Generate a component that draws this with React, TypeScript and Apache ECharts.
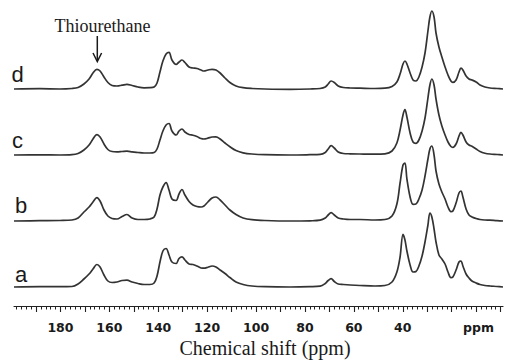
import React, { useEffect, useRef } from "react";
import * as echarts from "echarts";

// Chemical shift grid (ppm) shared by all four spectra
const shifts = [
  199.0, 188.4, 180.2, 175.3, 172.8, 170.4, 168.3, 166.7, 165.1, 163.8,
  162.2, 160.6, 158.9, 156.9, 154.8, 152.8, 150.7, 148.3, 145.8, 143.4,
  141.7, 140.5, 139.3, 138.1, 136.8, 135.6, 134.4, 132.7, 131.5, 130.3,
  129.1, 127.4, 125.8, 124.2, 122.5, 121.3, 119.7, 118.0, 116.4, 114.7,
  112.7, 110.7, 108.2, 105.3, 101.7, 96.3, 86.1, 77.9, 73.8, 71.7,
  70.5, 69.3, 68.0, 66.4, 64.3, 61.5, 57.5, 51.4, 47.3, 44.4,
  42.4, 41.1, 39.9, 39.1, 38.3, 37.0, 35.8, 34.6, 33.4, 32.1,
  30.9, 29.7, 28.9, 28.1, 27.2, 26.4, 25.2, 24.0, 22.7, 21.5,
  20.3, 19.5, 18.2, 17.0, 16.2, 15.4, 14.1, 12.9, 11.7, 10.0,
  8.4, 6.4, 4.3, 1.4, -1.0,
];

const traceA = [
  0, 0.3, 0.3, 0.5, 3, 8, 13, 18, 22.5, 20,
  12, 6, 4.5, 5, 6.5, 6.8, 5, 3.5, 2.5, 2.5,
  4, 11, 25, 36, 38.5, 32, 25, 23.5, 28.5, 30.2,
  27, 23, 22.5, 21, 19, 18.8, 19.8, 21, 20, 17,
  13.5, 9.5, 5, 2.5, 1, 0.3, 0, 0.3, 0.8, 3.5,
  6.5, 8.4, 5.5, 3, 2.5, 2, 1.5, 1, 1.5, 5,
  15, 30, 52.7, 47, 36, 22, 15, 15.5, 21, 31,
  45, 62, 74, 70, 58, 45, 32, 28, 23, 15,
  9.4, 10, 17, 25, 26, 21, 13, 9, 6, 4,
  2.5, 1.5, 1, 0.5, 0,
];

const traceB = [
  0, 0.3, 0.5, 1, 3, 9, 14, 19, 23.4, 20,
  11, 5, 2.5, 2, 4.5, 6.5, 3, 1.5, 1.5, 2,
  4, 12, 26, 34, 38.4, 31, 22, 20.5, 27, 31.5,
  26, 19.5, 16, 14.5, 14, 15, 19, 23, 24, 21,
  16, 11, 6.5, 3, 1.3, 0.5, 0, 0.2, 0.8, 3,
  6, 8.4, 6, 3, 2, 1.5, 1.5, 1, 1.5, 5,
  17, 38, 56, 58, 42, 24, 16.7, 17, 22, 31,
  45, 62, 72, 75, 66, 50, 37, 29, 22, 14,
  9.4, 10, 18, 28, 30, 24, 12, 6, 4, 2.5,
  1.5, 1, 0.8, 0.3, 0,
];

const traceC = [
  0, 0.2, 0, 0.3, 1.5, 5, 10, 16, 20.3, 18,
  11, 5.5, 3.5, 3.2, 3.5, 3.8, 3.2, 2.5, 2, 2,
  2.5, 6, 15, 24, 30, 31.5, 24, 20, 24, 26,
  23, 20.5, 19.8, 18.5, 16.5, 16, 16.8, 18, 18.2, 16,
  12, 8.3, 4.5, 2.2, 1, 0.3, 0, 0.3, 0.6, 2.5,
  6, 9.3, 7, 3, 1.5, 1.2, 1, 0.8, 1.2, 4,
  12, 25, 40, 45.3, 38, 22, 13, 11.7, 15, 24,
  37, 57, 70, 76, 70, 56, 40, 29, 20, 13,
  8.5, 7.7, 11, 19, 22.7, 20, 13, 10, 8.7, 6,
  3.5, 1.8, 1, 0.5, 0,
];

const traceD = [
  0, 0.3, 0, 0.5, 1.5, 5, 10, 16, 19.7, 18,
  12, 6.5, 3.5, 3, 3.8, 4.7, 3.5, 2, 1.2, 1.3,
  2, 6, 17, 28, 35, 36.7, 29, 24.5, 27, 29,
  26.5, 22, 21, 20.5, 19, 18, 19, 19.7, 19, 16,
  11, 6.5, 3, 1.3, 0.5, 0, -0.3, 0, 0.5, 2,
  5, 8, 6.5, 3, 1.5, 1, 0.8, 0.5, 0.8, 2.5,
  7, 15, 25, 28, 25, 16, 9, 8, 12, 22,
  36, 58, 72, 78, 72, 56, 42, 32, 22, 14,
  8, 6.7, 9, 17, 21, 19, 13, 10, 9, 7,
  4, 2, 1, 0.5, 0,
];

const traceNames = ["a", "b", "c", "d"];
const traces = [traceA, traceB, traceC, traceD];
const traceOffsets = [19, 85, 151, 217];

const tickLabelValues = [180, 160, 140, 120, 100, 80, 60, 40];
const unitLabelValue = 9;
const unitLabel = "ppm";
const axisTitle = "Chemical shift (ppm)";
const annotation = "Thiourethane";

const majorTickValues: number[] = [];
for (let v = 0; v <= 190; v += 10) majorTickValues.push(v);
const minorTickValues: number[] = [];
for (let v = 0; v <= 198; v += 2) minorTickValues.push(v);

const AX_MIN = -1;
const AX_MAX = 199;

export default function App() {
  const ref = useRef<HTMLDivElement>(null);

  useEffect(() => {
    if (!ref.current) return;
    const chart = echarts.init(ref.current, null, { renderer: "svg" });

    const lineColor = "#333333";

    const series = traces.map((tr, k) => ({
      name: traceNames[k],
      type: "line",
      xAxisIndex: 0,
      yAxisIndex: 0,
      data: shifts.map((s, i) => [s, tr[i] + traceOffsets[k]]),
      showSymbol: false,
      smooth: 0.35,
      clip: false,
      lineStyle: { color: lineColor, width: 1.7 },
      silent: true,
    }));

    const labelPos = [
      { x: 21, y: 274 },
      { x: 21, y: 205.5 },
      { x: 17.5, y: 140.7 },
      { x: 17.5, y: 74 },
    ];

    const letterTexts = traceNames.map((n, k) => ({
      type: "text",
      x: labelPos[k].x,
      y: labelPos[k].y,
      style: {
        text: n,
        fill: "#1a1a1a",
        font: "22px 'Liberation Sans', Arial, sans-serif",
        textAlign: "center",
        textVerticalAlign: "middle",
        align: "center",
        verticalAlign: "middle",
      },
    }));

    chart.setOption({
      animation: false,
      backgroundColor: "#ffffff",
      grid: {
        left: 14,
        right: 4,
        top: 0,
        bottom: 54,
        containLabel: false,
        outerBoundsMode: "none",
      },
      xAxis: [
        {
          type: "value",
          min: AX_MIN,
          max: AX_MAX,
          inverse: true,
          position: "bottom",
          axisLine: { show: true, lineStyle: { color: "#222", width: 1.2 } },
          axisTick: {
            show: true,
            customValues: majorTickValues,
            length: 6,
            lineStyle: { color: "#222", width: 1.1 },
          },
          axisLabel: {
            show: true,
            customValues: [...tickLabelValues, unitLabelValue],
            formatter: (v: number) => (v === unitLabelValue ? unitLabel : String(v)),
            margin: 15,
            color: "#1a1a1a",
            fontFamily: "'DejaVu Sans', Verdana, sans-serif",
            fontWeight: "bold",
            fontSize: 12.5,
          },
          splitLine: { show: false },
        },
        {
          type: "value",
          min: AX_MIN,
          max: AX_MAX,
          inverse: true,
          position: "bottom",
          axisLine: { show: false },
          axisTick: {
            show: true,
            customValues: minorTickValues,
            length: 3.5,
            lineStyle: { color: "#222", width: 1 },
          },
          axisLabel: { show: false },
          splitLine: { show: false },
        },
      ],
      yAxis: {
        type: "value",
        min: 0,
        max: 306,
        show: false,
        splitLine: { show: false },
      },
      series,
      graphic: [
        ...letterTexts,
        {
          type: "text",
          x: 102.5,
          y: 25.6,
          style: {
            text: annotation,
            fill: "#1a1a1a",
            font: "18px 'Liberation Serif', 'Times New Roman', serif",
            textAlign: "center",
            textVerticalAlign: "middle",
            align: "center",
            verticalAlign: "middle",
          },
        },
        {
          type: "line",
          shape: { x1: 97.3, y1: 36, x2: 97.3, y2: 61 },
          style: { stroke: "#1a1a1a", lineWidth: 1.5 },
        },
        {
          type: "polyline",
          shape: { points: [[93, 53], [97.3, 61.5], [101.6, 53]] },
          style: { stroke: "#1a1a1a", lineWidth: 1.5, fill: null },
        },
        {
          type: "text",
          x: 265,
          y: 347.5,
          style: {
            text: axisTitle,
            fill: "#1a1a1a",
            font: "20px 'Liberation Serif', 'Times New Roman', serif",
            textAlign: "center",
            textVerticalAlign: "middle",
            align: "center",
            verticalAlign: "middle",
          },
        },
      ],
    });

    return () => chart.dispose();
  }, []);

  return (
    <div
      ref={ref}
      style={{ position: "fixed", left: 0, top: 0, width: 507, height: 360, background: "#fff" }}
    />
  );
}
